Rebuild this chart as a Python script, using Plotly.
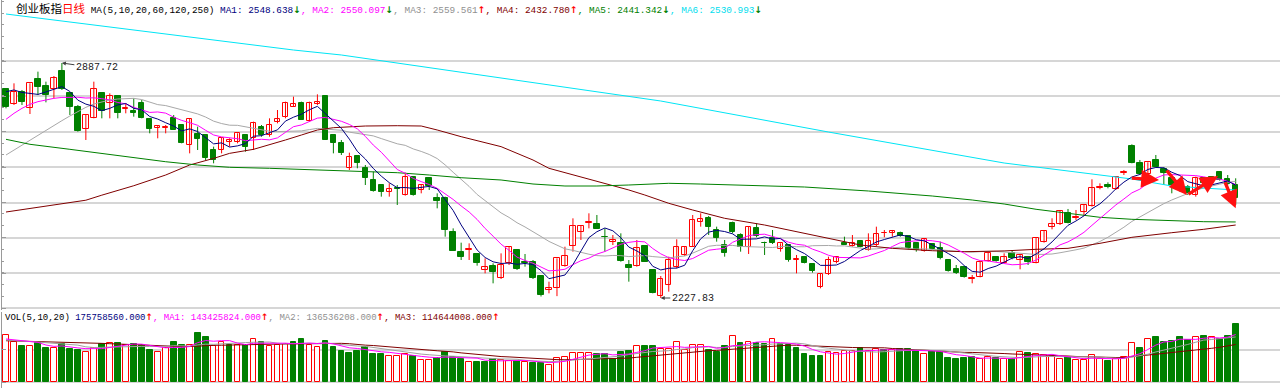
import numpy as np
import pandas as pd
import plotly.graph_objects as go

# ---------------- data ----------------
open_ = [2813.8,2771.6,2807.2,2760.4,2841.8,2823.1,2814.7,2865.2,2802.5,2763.2,
         2702.4,2734.2,2802.5,2774.4,2796.0,2758.5,2752.9,2776.3,2729.5,2704.2,
         2704.2,2732.3,2713.6,2657.4,2688.3,2685.5,2643.4,2643.4,2666.8,2666.8,
         2685.5,2676.2,2708.9,2685.5,2723.0,2737.0,2765.1,2776.3,2725.8,2771.6,
         2796.0,2685.5,2664.0,2591.9,2626.6,2593.8,2559.2,2545.1,2524.5,2538.0,
         2517.0,2566.6,2531.1,2563.8,2507.7,2507.7,2414.1,2357.9,2362.6,2351.4,
         2306.4,2317.7,2283.0,2325.2,2362.6,2329.8,2329.8,2290.5,2250.3,2255.0,
         2318.6,2374.8,2412.2,2439.3,2435.6,2400.0,2386.0,2381.3,2320.5,2318.6,
         2373.8,2306.4,2233.0,2264.3,2315.8,2348.6,2372.0,2442.2,2451.5,2418.8,
         2376.6,2439.4,2404.7,2372.0,2423.4,2383.2,2395.4,2364.5,2376.6,2335.5,
         2343.9,2322.4,2257.8,2295.2,2329.8,2383.2,2373.8,2388.8,2362.6,2376.6,
         2409.4,2409.4,2409.4,2401.9,2381.3,2360.7,2378.5,2367.3,2334.5,2308.3,
         2315.8,2280.2,2287.7,2332.6,2342.0,2327.1,2355.2,2334.6,2343.9,2327.1,
         2386.0,2426.3,2435.6,2465.6,2451.6,2470.3,2486.2,2535.8,2545.2,2533.0,
         2577.9,2654.7,2606.0,2576.0,2615.4,2589.2,2563.9,2554.5,2538.6,2517.1,
         2563.9,2568.6,2582.6,2561.1,2545.2]
high = [2816.0,2830.6,2811.9,2830.6,2863.4,2835.3,2851.2,2887.72,2802.5,2769.8,
        2741.7,2835.3,2802.5,2802.5,2796.0,2774.4,2788.5,2783.8,2729.5,2713.6,
        2713.6,2741.7,2713.6,2730.4,2708.9,2685.5,2652.8,2678.0,2676.2,2690.2,
        2685.5,2723.0,2713.6,2732.3,2755.7,2779.1,2793.2,2779.1,2779.1,2799.7,
        2797.8,2685.5,2671.5,2635.9,2626.6,2601.3,2582.6,2545.1,2549.8,2545.0,
        2579.8,2566.6,2547.9,2566.6,2521.7,2512.4,2423.4,2383.2,2381.3,2351.4,
        2339.2,2325.2,2353.2,2371.9,2362.6,2351.4,2334.5,2290.5,2273.7,2339.2,
        2371.9,2451.5,2430.0,2465.6,2460.9,2423.4,2404.7,2409.4,2334.5,2390.7,
        2373.8,2306.4,2289.6,2343.9,2392.6,2373.8,2460.9,2465.6,2458.1,2428.1,
        2390.7,2442.2,2409.4,2428.1,2437.5,2386.0,2418.8,2381.3,2376.6,2348.6,
        2345.7,2322.4,2295.2,2343.9,2343.9,2400.0,2404.7,2390.7,2409.4,2428.1,
        2418.8,2418.8,2414.1,2404.7,2383.2,2395.4,2381.3,2386.0,2336.4,2320.5,
        2317.7,2292.4,2329.8,2357.9,2343.9,2353.3,2362.6,2348.6,2345.8,2398.2,
        2418.8,2451.6,2475.0,2477.8,2475.0,2491.8,2561.1,2549.8,2552.6,2570.4,
        2587.3,2659.4,2615.4,2608.8,2629.4,2594.8,2568.6,2557.4,2545.2,2568.6,
        2566.7,2570.4,2582.6,2573.2,2563.9]
low = [2760.4,2769.8,2769.8,2744.5,2797.8,2777.2,2788.5,2811.9,2741.7,2694.9,
       2671.5,2732.3,2732.3,2732.3,2732.3,2746.4,2737.0,2732.3,2690.2,2676.2,
       2690.2,2699.6,2662.1,2634.0,2643.4,2615.3,2606.0,2634.0,2652.8,2662.1,
       2638.7,2643.4,2680.8,2680.8,2718.3,2732.3,2765.1,2727.6,2723.0,2769.8,
       2671.5,2634.0,2629.4,2587.2,2592.0,2545.1,2526.4,2512.4,2512.4,2489.0,
       2515.2,2515.2,2521.7,2531.1,2479.6,2400.0,2360.7,2334.5,2334.5,2318.6,
       2297.1,2269.0,2281.1,2320.5,2306.4,2315.8,2281.1,2232.0,2240.9,2233.0,
       2315.8,2357.9,2390.7,2423.4,2421.6,2357.9,2376.6,2329.8,2273.7,2315.8,
       2329.8,2240.9,2227.83,2245.6,2311.1,2345.7,2372.0,2428.1,2404.7,2386.0,
       2343.9,2409.4,2357.9,2351.4,2398.2,2348.6,2379.4,2357.9,2329.8,2297.1,
       2325.2,2299.0,2255.0,2292.4,2325.2,2376.6,2372.0,2370.1,2360.7,2373.8,
       2398.2,2400.0,2400.0,2364.5,2357.9,2357.9,2362.6,2336.4,2301.8,2295.2,
       2284.9,2269.0,2285.8,2329.8,2329.8,2325.2,2336.4,2308.4,2320.5,2325.2,
       2383.2,2420.7,2432.8,2437.5,2446.9,2459.0,2484.3,2533.0,2535.8,2531.1,
       2573.2,2606.0,2573.2,2573.2,2594.8,2545.2,2521.8,2526.4,2517.1,2512.4,
       2547.0,2557.0,2557.4,2545.2,2489.0]
close = [2763.2,2807.2,2777.2,2830.6,2819.4,2797.8,2844.6,2813.8,2763.2,2697.7,
         2741.7,2813.8,2752.9,2796.0,2746.4,2760.4,2746.4,2732.3,2701.4,2710.8,
         2708.9,2699.6,2664.0,2730.4,2673.4,2620.0,2615.3,2678.0,2671.5,2690.2,
         2652.8,2718.3,2685.5,2713.6,2729.5,2776.3,2772.6,2727.6,2776.3,2777.2,
         2671.5,2662.1,2634.0,2624.7,2606.0,2563.8,2529.2,2526.4,2533.0,2535.0,
         2566.6,2517.0,2545.1,2542.3,2500.2,2418.8,2360.7,2343.9,2364.4,2325.2,
         2313.9,2299.9,2320.5,2370.1,2308.3,2325.2,2283.0,2237.0,2256.8,2339.2,
         2345.7,2430.0,2430.0,2442.2,2421.6,2398.2,2390.7,2332.7,2311.1,2367.3,
         2329.8,2242.8,2282.0,2334.5,2370.1,2370.1,2446.8,2448.7,2428.1,2395.4,
         2353.2,2414.1,2372.0,2428.1,2401.9,2381.3,2383.2,2381.3,2334.5,2337.0,
         2327.0,2303.6,2295.2,2334.5,2342.0,2376.6,2381.3,2372.0,2388.8,2407.5,
         2410.4,2416.0,2401.9,2367.3,2362.6,2393.5,2364.5,2339.2,2303.6,2299.0,
         2287.7,2283.0,2328.0,2355.1,2332.6,2343.9,2339.2,2348.6,2329.9,2395.4,
         2416.9,2435.6,2472.2,2439.4,2456.2,2489.0,2535.8,2540.5,2538.6,2568.6,
         2582.6,2607.9,2576.0,2608.8,2596.6,2577.9,2545.2,2531.1,2521.8,2565.8,
         2549.8,2559.2,2559.2,2548.0,2507.7]

# volume in millions of shares
volume_m = [143.4,123.2,110.1,110.1,118.2,103.0,103.0,116.2,101.0,98.0,
            91.9,103.0,116.2,118.2,118.2,113.1,115.1,113.1,98.0,92.9,
            103.0,121.2,113.1,112.1,150.5,136.4,110.1,121.2,113.1,113.1,
            113.1,130.3,123.2,110.1,113.1,116.2,121.2,130.3,113.1,106.1,
            126.3,106.1,96.0,87.9,96.0,106.1,85.9,85.9,79.8,79.8,
            84.8,80.8,67.7,67.7,72.7,92.9,77.8,69.7,62.6,62.6,
            62.6,69.7,67.7,65.7,65.7,62.6,57.6,59.6,52.5,72.7,
            75.8,87.9,87.9,87.9,84.8,84.8,69.7,92.9,96.0,110.1,
            110.1,110.1,100.0,100.0,121.2,98.0,113.1,113.1,98.0,92.9,
            110.1,141.4,118.2,121.2,118.2,115.1,130.3,116.2,113.1,103.0,
            85.9,79.8,79.8,92.9,87.9,96.0,96.0,103.0,94.9,100.0,
            98.0,98.0,100.0,100.0,94.9,85.9,94.9,92.9,74.7,69.7,
            74.7,75.8,70.7,75.8,72.7,69.7,69.7,90.9,87.9,85.9,
            82.8,75.8,70.7,75.8,67.7,67.7,82.8,69.7,65.7,69.7,
            75.8,118.2,103.0,130.3,136.4,123.2,126.3,136.4,128.3,136.4,
            140.4,136.4,130.3,140.4,175.76]
# volume bar colour as read: r = rising (red hollow), g = falling (green)
vol_dir = list("rrgrggrggg" "rrgrgrgggr" "rggrggrrgr" "grgrrrggrr" "ggggggggrr"
               "rgrrggggrg" "ggrrgrggrr" "rrrrgggggr" "ggrrrrrrgg" "grgrggrggg"
               "gggrrrrgrr" "grgggrgggg" "ggrrgrgrgr" "rrrgrrrrgr" "rrgrgggggr"
               "grggg")

# moving averages: first values (before a full window exists)
ma5_head = [2807.0, 2812.0, 2805.0, 2803.0]
ma10_head = [2729.5, 2746.4, 2760.4, 2771.6, 2779.1, 2783.8, 2788.5, 2791.0, 2792.0]
ma20_head = [2629.4, 2643.4, 2657.4, 2671.5, 2685.5, 2699.6, 2713.6, 2725.8, 2738.9, 2751.0,
             2763.2, 2772.6, 2779.1, 2783.8, 2786.6, 2788.5, 2788.5, 2785.0, 2778.0]
ma60_x = [0,4,10,12,16,20,23,26,28,31,33,35,37,39,41,43,45,49,52,54,57,62,66,68,70,72,74,
          76,78,80,83,86,90,95,99,103,107,111,116,120,125,129,133,137,141,146,150,154]
ma60_y = [2469.3,2483.0,2502.4,2516.6,2543.1,2573.2,2601.3,2619.8,2634.0,2645.3,2657.4,
          2671.5,2685.5,2699.6,2706.0,2709.0,2710.8,2711.6,2710.8,2699.6,2680.8,2652.8,
          2615.3,2592.0,2579.7,2568.4,2556.4,2542.3,2531.1,2517.0,2493.7,2474.9,2451.6,
          2432.8,2414.0,2395.4,2376.6,2367.3,2360.6,2357.8,2360.0,2364.5,2367.3,2381.3,
          2398.2,2411.2,2420.7,2432.78]
ma120_x = [0,3,8,12,16,20,24,28,33,37,42,45,49,53,57,62,66,70,74,78,83,87,100,108,116,
           121,125,129,133,137,141,146,150,154]
ma120_y = [2673.4,2659.4,2645.3,2634.0,2622.9,2610.5,2601.3,2594.8,2592.0,2589.2,2585.3,
           2584.4,2579.7,2573.2,2565.6,2559.2,2547.9,2542.3,2542.3,2545.1,2549.9,2547.9,
           2539.5,2528.3,2514.2,2503.0,2491.8,2476.9,2465.6,2454.4,2448.8,2444.9,2442.1,
           2441.342]
ma250_x = [0,18,36,42,62,82,103,125,141,146,154]
ma250_y = [3025.3,2973.9,2924.2,2910.2,2845.6,2781.0,2693.9,2606.9,2562.0,2542.3,2530.993]

vma5_head = [131.3, 128.3, 125.2, 123.2]
vma10_head = [128.0, 127.0, 126.0, 124.0, 122.0, 120.0, 118.0, 116.0, 114.0]
vma20_head = [126.0, 125.5, 125.0, 124.5, 124.0, 123.5, 123.0, 122.5, 122.0, 121.0,
              120.0, 119.0, 118.0, 117.0, 116.0, 115.0, 114.0, 113.0, 112.0]

hi_label = "2887.72"
lo_label = "2227.83"
hi_idx, lo_idx = 7, 82

# red annotation arrows: (tail index, tail price, head index, head price)
arrows = [(140.8, 2564.8, 144.4, 2559.2),
          (145.2, 2590.0, 147.9, 2517.0),
          (147.9, 2517.0, 151.8, 2570.4),
          (152.6, 2556.4, 154.0, 2479.6)]

header_vals = ["2548.638", "2550.097", "2559.561", "2432.780", "2441.342", "2530.993"]
header_dirs = ["down", "down", "up", "up", "down", "down"]
vol_header_vals = ["175758560.000", "143425824.000", "136536208.000", "114644008.000"]

# ---------------- derived ----------------
RED = "#FF0000"
GREEN = "#008000"
ma_colors = ["#000080", "#FF00FF", "#A8A8A8", "#800000", "#008000", "#00E5F5"]
hdr_colors = ["#000080", "#FF00FF", "#909090", "#800000", "#008000", "#00DDEE"]

n = len(close)
idx = np.arange(n)
o = np.array(open_); h = np.array(high); l = np.array(low); c = np.array(close)
vol = np.array(volume_m)


def moving(values, w, head):
    m = pd.Series(values).rolling(w).mean().to_numpy()
    m[:len(head)] = head
    return m

ma5 = moving(c, 5, ma5_head)
ma10 = moving(c, 10, ma10_head)
ma20 = moving(c, 20, ma20_head)
vma5 = moving(vol, 5, vma5_head)
vma10 = moving(vol, 10, vma10_head)
vma20 = moving(vol, 20, vma20_head)

up = c >= o
fig = go.Figure()

# wicks
for mask, col in ((up, RED), (~up, GREEN)):
    wx, wy = [], []
    for i in idx[mask]:
        wx += [i, i, None]
        wy += [l[i], h[i], None]
    fig.add_trace(go.Scatter(x=wx, y=wy, mode="lines", line=dict(color=col, width=1),
                             hoverinfo="skip", xaxis="x", yaxis="y"))

# bodies
body_base = np.minimum(o, c)
body_h = np.maximum(np.abs(c - o), 1.4)
fig.add_trace(go.Bar(x=idx[up], y=body_h[up], base=body_base[up], width=0.68,
                     marker=dict(color="white", line=dict(color=RED, width=1)),
                     xaxis="x", yaxis="y"))
fig.add_trace(go.Bar(x=idx[~up], y=body_h[~up], base=body_base[~up], width=0.68,
                     marker=dict(color=GREEN, line=dict(color=GREEN, width=1)),
                     xaxis="x", yaxis="y"))

# price moving averages
for xs, ys, col in ((idx, ma20, ma_colors[2]), (ma60_x, ma60_y, ma_colors[3]),
                    (ma120_x, ma120_y, ma_colors[4]), (ma250_x, ma250_y, ma_colors[5]),
                    (idx, ma10, ma_colors[1]), (idx, ma5, ma_colors[0])):
    fig.add_trace(go.Scatter(x=xs, y=ys, mode="lines", line=dict(color=col, width=1),
                             hoverinfo="skip", xaxis="x", yaxis="y"))

# volume bars
vup = np.array([d == "r" for d in vol_dir])
fig.add_trace(go.Bar(x=idx[vup], y=vol[vup], width=0.72,
                     marker=dict(color="white", line=dict(color=RED, width=1)),
                     xaxis="x2", yaxis="y2"))
fig.add_trace(go.Bar(x=idx[~vup], y=vol[~vup], width=0.72,
                     marker=dict(color=GREEN, line=dict(color=GREEN, width=1)),
                     xaxis="x2", yaxis="y2"))
for ys, col in ((vma20, "#800000"), (vma10, "#A0A0A0"), (vma5, "#FF00FF")):
    fig.add_trace(go.Scatter(x=idx, y=ys, mode="lines", line=dict(color=col, width=1),
                             hoverinfo="skip", xaxis="x2", yaxis="y2"))

# ---------------- layout ----------------
H = 388
px_per_idx = 7.985
left_m = 2
x0 = -(6 - left_m) / px_per_idx
x1 = x0 + (1280 - left_m) / px_per_idx

p_slope = 2.808     # price per pixel
p_top = 3064.6      # price at pixel row 0
price_bottom_px = 310
vol_top_px = 312
vol_zero_px = 382.3
v_slope = 3.03      # million per pixel

grid_vals = [2893.3, 2793.9, 2694.8, 2595.1, 2495.4, 2397.7, 2298.0, 2198.9]
minor_vals = list(np.arange(2198.9 - 33.15, 3064.6, 33.15))

fig.update_layout(
    width=1280, height=H, margin=dict(l=left_m, r=0, t=0, b=0),
    paper_bgcolor="white", plot_bgcolor="white", showlegend=False,
    barmode="overlay", bargap=0, hovermode=False,
    xaxis=dict(range=[x0, x1], visible=False, anchor="y"),
    xaxis2=dict(range=[x0, x1], visible=False, anchor="y2", matches="x"),
    yaxis=dict(domain=[1 - price_bottom_px / H, 1],
               range=[p_top - p_slope * price_bottom_px, p_top],
               tickmode="array", tickvals=grid_vals, showticklabels=False,
               showgrid=True, gridcolor="#D6D6D6", gridwidth=1.5, zeroline=False,
               showline=True, linecolor="#9A9A9A", linewidth=1,
               ticks="inside", ticklen=4, tickcolor="#9A9A9A",
               minor=dict(tickmode="array", tickvals=minor_vals, ticks="inside",
                          ticklen=2, tickcolor="#9A9A9A", showgrid=False)),
    yaxis2=dict(domain=[0, (H - vol_top_px) / H],
                range=[-(H - vol_zero_px) * v_slope, (vol_zero_px - vol_top_px) * v_slope],
                tickmode="array", tickvals=[0, 97.9], showticklabels=False,
                showgrid=True, gridcolor="#D6D6D6", gridwidth=1.5, zeroline=False,
                showline=True, linecolor="#9A9A9A", linewidth=1,
                ticks="inside", ticklen=4, tickcolor="#9A9A9A"),
)

# header line
arrow_chr = {"up": ("↑", RED), "down": ("↓", GREEN)}
parts = ['<span style="font-family:Noto Sans CJK SC;font-size:11.5px">创业板指</span>',
         '<span style="font-family:Noto Sans CJK SC;font-size:11.5px;color:#FF0000">日线</span>',
         ' MA(5,10,20,60,120,250) ']
for k, (v, d) in enumerate(zip(header_vals, header_dirs)):
    a, ac = arrow_chr[d]
    parts.append(f'<span style="color:{hdr_colors[k]}">MA{k+1}: {v}</span>'
                 f'<span style="color:{ac};font-family:DejaVu Sans;font-weight:bold">{a}</span>')
    if k < 5:
        parts.append(f'<span style="color:{hdr_colors[k+1]}">, </span>')
fig.add_annotation(xref="paper", yref="paper", x=(14 - left_m) / (1280 - left_m),
                   y=1 - 8 / H, xanchor="left", yanchor="middle", showarrow=False,
                   text="".join(parts), font=dict(family="Liberation Mono", size=9.4, color="#000000"))

vcols = ["#000080", "#FF00FF", "#909090", "#800000"]
vparts = ['VOL(5,10,20) ']
for k, v in enumerate(vol_header_vals):
    lab = "" if k == 0 else f"MA{k}: "
    vparts.append(f'<span style="color:{vcols[k]}">{lab}{v}</span>'
                  f'<span style="color:#FF0000;font-family:DejaVu Sans;font-weight:bold">↑</span>')
    if k < 3:
        vparts.append(f'<span style="color:{vcols[k+1]}">, </span>')
fig.add_annotation(xref="paper", yref="paper", x=(3 - left_m) / (1280 - left_m),
                   y=1 - 317 / H, xanchor="left", yanchor="middle", showarrow=False,
                   text="".join(vparts), font=dict(family="Liberation Mono", size=9, color="#000000"))

# high / low labels
fig.add_annotation(x=hi_idx, y=high[hi_idx], xref="x", yref="y", text=hi_label,
                   showarrow=True, ax=35, ay=5, arrowhead=2, arrowsize=0.8, arrowwidth=1,
                   arrowcolor="#404040", font=dict(family="Liberation Mono", size=10, color="#202020"))
fig.add_annotation(x=lo_idx, y=low[lo_idx], xref="x", yref="y", text=lo_label,
                   showarrow=True, ax=32, ay=0, arrowhead=2, arrowsize=0.8, arrowwidth=1,
                   arrowcolor="#404040", font=dict(family="Liberation Mono", size=10, color="#202020"))

# red hand-drawn arrows
for tx, ty, hx, hy in arrows:
    fig.add_annotation(x=hx, y=hy, ax=tx, ay=ty, xref="x", yref="y", axref="x", ayref="y",
                       text="", showarrow=True, arrowhead=2, arrowsize=1.05, arrowwidth=3.4,
                       arrowcolor="#FF1010")

fig.write_html("out.html", config={"displayModeBar": False},
               post_script="document.body.style.margin='0';")
